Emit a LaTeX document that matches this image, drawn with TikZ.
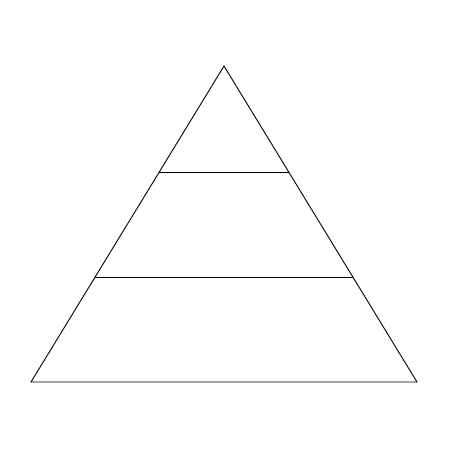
\documentclass[tikz,border=0pt]{standalone}
\begin{document}
\begin{tikzpicture}[x=1pt,y=-1pt,line width=0.9pt]
\useasboundingbox (0,0) rectangle (450,450);
\coordinate (apex) at (224,66);
\coordinate (bl) at (31,382);
\coordinate (br) at (417,382);
\draw (apex) -- (bl) -- (br) -- cycle;
\draw (159.3,172) -- (288.7,172);
\draw (95.1,277) -- (352.9,277);
\end{tikzpicture}
\end{document}
